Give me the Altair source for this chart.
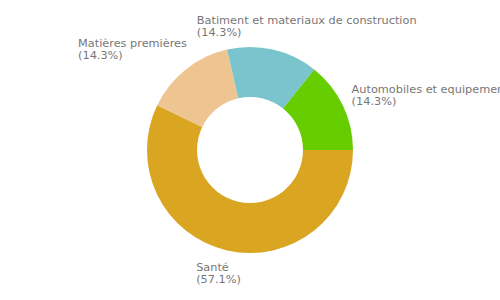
import math
import altair as alt
import pandas as pd

categories = ["Santé", "Matières premières", "Batiment et materiaux de construction", "Automobiles et equipements"]
values = [4, 1, 1, 1]
colors = ["#DAA520", "#EEC591", "#7AC5CD", "#66CD00"]

total = sum(values)
df = pd.DataFrame({
    "category": categories,
    "value": values,
    "idx": list(range(len(categories))),
})
df["label"] = [f"{c}\n({v / total * 100:.1f}%)" for c, v in zip(categories, values)]

theta_scale = alt.Scale(domain=[0, total], range=[math.pi / 2, math.pi / 2 + 2 * math.pi])

base = alt.Chart(df).transform_stack(
    stack="value", groupby=[], as_=["v0", "v1"], sort=[alt.SortField("idx", order="ascending")]
).transform_calculate(mid="(datum.v0 + datum.v1) / 2")

arcs = base.mark_arc(innerRadius=53, outerRadius=103).encode(
    theta=alt.Theta("v0:Q", scale=theta_scale),
    theta2="v1:Q",
    color=alt.Color("category:N", scale=alt.Scale(domain=categories, range=colors), legend=None),
)

offsets = {
    "Santé": (-26, -0.5),
    "Matières premières": (-94, -5),
    "Batiment et materiaux de construction": (-81, -4.5),
    "Automobiles et equipements": (-11, -2.5),
}

label_layers = []
for cat in categories:
    dx, dy = offsets[cat]
    label_layers.append(
        base.transform_filter(alt.datum.category == cat).mark_text(
            radius=125, align="left", baseline="alphabetic", dx=dx, dy=dy,
            font="DejaVu Sans", fontSize=11.3, color="#767676", lineBreak="\n", lineHeight=12,
        ).encode(theta=alt.Theta("mid:Q", scale=theta_scale), text="label:N")
    )

chart = alt.layer(arcs, *label_layers).properties(
    width=500, height=300, padding=0, autosize=alt.AutoSizeParams(type="none")
).configure_view(stroke=None)

chart.save("out.html", embed_options={"renderer": "svg", "actions": False})
